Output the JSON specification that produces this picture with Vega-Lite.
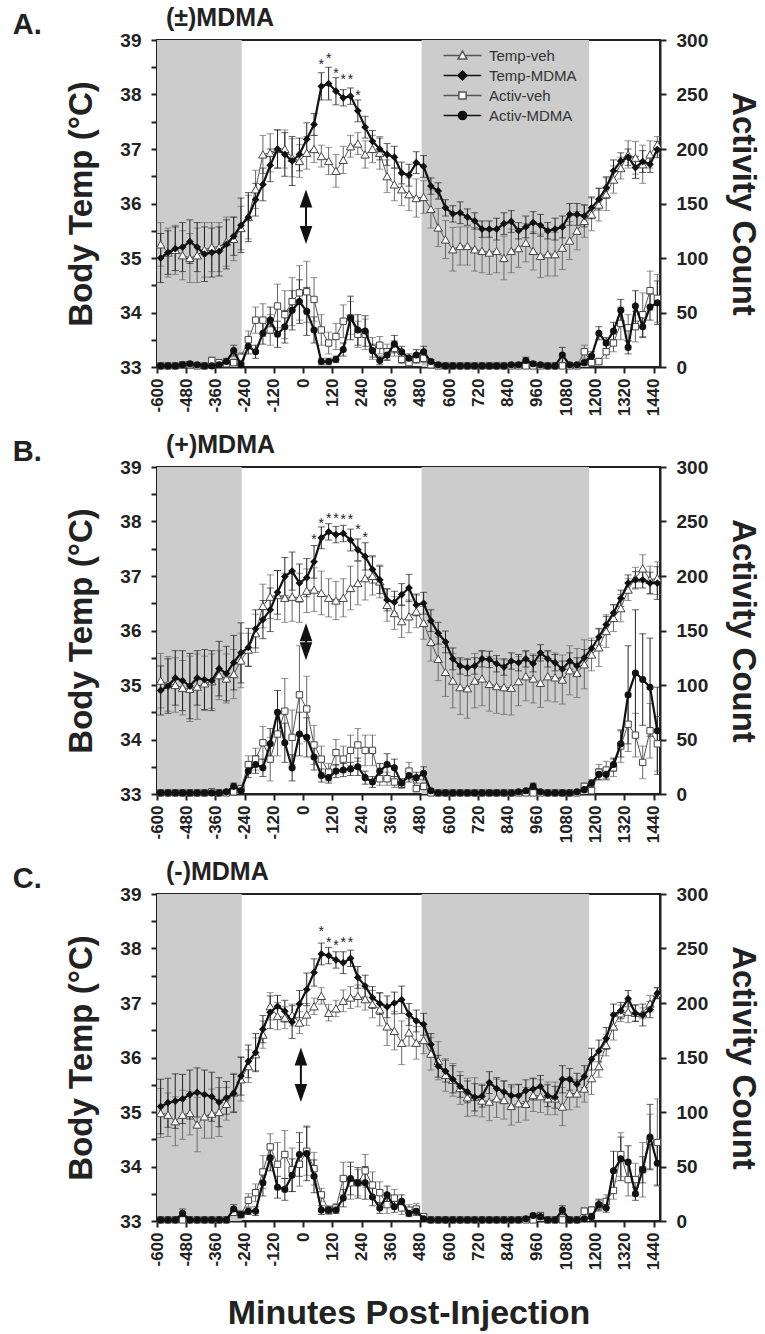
{
"$schema":"https://vega.github.io/schema/vega-lite/v6.json",
"background":"white",
"padding":{"left":12,"top":5,"right":3,"bottom":0},
"config":{"font":"Liberation Sans","view":{"stroke":"#222","strokeWidth":2},
"axis":{"grid":false,"domainColor":"#222","domainWidth":2,"tickColor":"#222","tickWidth":2,"tickSize":6,"labelColor":"#222","titleColor":"#222","labelFont":"Liberation Sans","titleFont":"Liberation Sans","labelFontWeight":"bold","titleFontWeight":"bold"},
"axisX":{"labelOverlap":false,"labelFlush":false,"labelAngle":-90,"labelFontSize":17,"labelPadding":5,"tickCount":30},
"title":{"font":"Liberation Sans","fontWeight":"bold","color":"#222"}},
"datasets":{
"shade":[{"s":-600,"e":-252},{"s":487,"e":1175}],
"A":[
{"t":-585,"tv":35.25,"e1":0.4,"tm":35.0,"e2":0.45,"av":1,"e3":1,"am":1,"e4":1},
{"t":-555,"tv":35.1,"e1":0.45,"tm":35.1,"e2":0.4,"av":1,"e3":1,"am":1,"e4":1},
{"t":-525,"tv":35.15,"e1":0.45,"tm":35.17,"e2":0.4,"av":1,"e3":1,"am":1,"e4":1},
{"t":-495,"tv":35.05,"e1":0.45,"tm":35.2,"e2":0.45,"av":2,"e3":1,"am":2,"e4":1},
{"t":-465,"tv":35.0,"e1":0.45,"tm":35.3,"e2":0.4,"av":2,"e3":2,"am":3,"e4":2},
{"t":-435,"tv":35.05,"e1":0.5,"tm":35.2,"e2":0.45,"av":1,"e3":1,"am":2,"e4":1},
{"t":-405,"tv":35.15,"e1":0.5,"tm":35.07,"e2":0.5,"av":1,"e3":1,"am":1,"e4":1},
{"t":-375,"tv":35.2,"e1":0.45,"tm":35.1,"e2":0.45,"av":6,"e3":3,"am":1,"e4":1},
{"t":-345,"tv":35.2,"e1":0.45,"tm":35.12,"e2":0.45,"av":4,"e3":2,"am":2,"e4":1},
{"t":-315,"tv":35.3,"e1":0.45,"tm":35.25,"e2":0.45,"av":3,"e3":2,"am":5,"e4":3},
{"t":-285,"tv":35.35,"e1":0.4,"tm":35.4,"e2":0.35,"av":4,"e3":2,"am":15,"e4":5},
{"t":-255,"tv":35.55,"e1":0.4,"tm":35.6,"e2":0.5,"av":9,"e3":4,"am":2,"e4":2},
{"t":-225,"tv":35.75,"e1":0.4,"tm":35.75,"e2":0.45,"av":25,"e3":8,"am":19,"e4":7},
{"t":-195,"tv":36.26,"e1":0.35,"tm":36.07,"e2":0.3,"av":43,"e3":12,"am":14,"e4":6},
{"t":-165,"tv":36.9,"e1":0.35,"tm":36.35,"e2":0.3,"av":43,"e3":15,"am":31,"e4":10},
{"t":-135,"tv":36.93,"e1":0.35,"tm":36.7,"e2":0.3,"av":34,"e3":14,"am":43,"e4":12},
{"t":-105,"tv":37.0,"e1":0.35,"tm":37.0,"e2":0.35,"av":56,"e3":20,"am":30,"e4":12},
{"t":-75,"tv":37.0,"e1":0.35,"tm":36.9,"e2":0.4,"av":48,"e3":22,"am":37,"e4":15},
{"t":-45,"tv":36.84,"e1":0.35,"tm":36.78,"e2":0.45,"av":60,"e3":22,"am":52,"e4":18},
{"t":-15,"tv":36.78,"e1":0.3,"tm":36.9,"e2":0.3,"av":68,"e3":25,"am":60,"e4":20},
{"t":15,"tv":36.93,"e1":0.3,"tm":37.18,"e2":0.3,"av":69,"e3":28,"am":51,"e4":22},
{"t":45,"tv":37.0,"e1":0.25,"tm":37.45,"e2":0.2,"av":62,"e3":20,"am":34,"e4":12},
{"t":75,"tv":36.87,"e1":0.2,"tm":38.15,"e2":0.25,"av":34,"e3":14,"am":5,"e4":3},
{"t":105,"tv":36.78,"e1":0.25,"tm":38.2,"e2":0.3,"av":22,"e3":10,"am":5,"e4":3},
{"t":135,"tv":36.6,"e1":0.3,"tm":38.06,"e2":0.25,"av":28,"e3":12,"am":7,"e4":3},
{"t":165,"tv":36.8,"e1":0.25,"tm":37.94,"e2":0.15,"av":42,"e3":15,"am":16,"e4":6},
{"t":195,"tv":37.05,"e1":0.2,"tm":37.97,"e2":0.15,"av":45,"e3":15,"am":45,"e4":20},
{"t":225,"tv":37.1,"e1":0.2,"tm":37.7,"e2":0.2,"av":30,"e3":12,"am":34,"e4":14},
{"t":255,"tv":36.9,"e1":0.25,"tm":37.4,"e2":0.2,"av":30,"e3":14,"am":33,"e4":14},
{"t":285,"tv":37.0,"e1":0.25,"tm":37.14,"e2":0.2,"av":17,"e3":10,"am":15,"e4":6},
{"t":315,"tv":36.93,"e1":0.3,"tm":37.0,"e2":0.2,"av":20,"e3":8,"am":6,"e4":4},
{"t":345,"tv":36.5,"e1":0.3,"tm":36.9,"e2":0.2,"av":14,"e3":7,"am":11,"e4":5},
{"t":375,"tv":36.35,"e1":0.3,"tm":36.85,"e2":0.2,"av":17,"e3":7,"am":21,"e4":8},
{"t":405,"tv":36.26,"e1":0.3,"tm":36.56,"e2":0.2,"av":7,"e3":4,"am":14,"e4":5},
{"t":435,"tv":36.17,"e1":0.3,"tm":36.52,"e2":0.2,"av":4,"e3":3,"am":8,"e4":4},
{"t":465,"tv":36.1,"e1":0.35,"tm":36.75,"e2":0.2,"av":7,"e3":4,"am":11,"e4":5},
{"t":495,"tv":36.12,"e1":0.3,"tm":36.68,"e2":0.2,"av":8,"e3":4,"am":14,"e4":5},
{"t":525,"tv":35.9,"e1":0.35,"tm":36.32,"e2":0.15,"av":2,"e3":1,"am":5,"e4":2},
{"t":555,"tv":35.56,"e1":0.35,"tm":36.23,"e2":0.15,"av":1,"e3":1,"am":2,"e4":1},
{"t":585,"tv":35.34,"e1":0.35,"tm":35.92,"e2":0.15,"av":1,"e3":1,"am":1,"e4":1},
{"t":615,"tv":35.16,"e1":0.4,"tm":35.81,"e2":0.15,"av":1,"e3":1,"am":1,"e4":1},
{"t":645,"tv":35.22,"e1":0.35,"tm":35.83,"e2":0.2,"av":1,"e3":1,"am":1,"e4":1},
{"t":675,"tv":35.22,"e1":0.35,"tm":35.75,"e2":0.15,"av":1,"e3":1,"am":1,"e4":1},
{"t":705,"tv":35.16,"e1":0.4,"tm":35.68,"e2":0.15,"av":1,"e3":1,"am":1,"e4":1},
{"t":735,"tv":35.13,"e1":0.4,"tm":35.53,"e2":0.15,"av":1,"e3":1,"am":1,"e4":1},
{"t":765,"tv":35.1,"e1":0.4,"tm":35.53,"e2":0.15,"av":1,"e3":1,"am":1,"e4":1},
{"t":795,"tv":35.13,"e1":0.4,"tm":35.53,"e2":0.2,"av":1,"e3":1,"am":1,"e4":1},
{"t":825,"tv":35.0,"e1":0.4,"tm":35.63,"e2":0.2,"av":1,"e3":1,"am":1,"e4":1},
{"t":855,"tv":35.13,"e1":0.4,"tm":35.67,"e2":0.2,"av":1,"e3":1,"am":2,"e4":1},
{"t":885,"tv":35.18,"e1":0.35,"tm":35.5,"e2":0.15,"av":1,"e3":1,"am":2,"e4":1},
{"t":915,"tv":35.28,"e1":0.35,"tm":35.57,"e2":0.2,"av":1,"e3":1,"am":6,"e4":3},
{"t":945,"tv":35.13,"e1":0.35,"tm":35.65,"e2":0.2,"av":1,"e3":1,"am":3,"e4":2},
{"t":975,"tv":35.04,"e1":0.4,"tm":35.6,"e2":0.2,"av":1,"e3":1,"am":2,"e4":1},
{"t":1005,"tv":35.07,"e1":0.4,"tm":35.5,"e2":0.15,"av":1,"e3":1,"am":1,"e4":1},
{"t":1035,"tv":35.07,"e1":0.4,"tm":35.53,"e2":0.2,"av":1,"e3":1,"am":1,"e4":1},
{"t":1065,"tv":35.19,"e1":0.4,"tm":35.57,"e2":0.2,"av":1,"e3":1,"am":11,"e4":7},
{"t":1095,"tv":35.32,"e1":0.35,"tm":35.8,"e2":0.2,"av":1,"e3":1,"am":2,"e4":1},
{"t":1125,"tv":35.5,"e1":0.35,"tm":35.8,"e2":0.2,"av":1,"e3":1,"am":2,"e4":1},
{"t":1155,"tv":35.68,"e1":0.3,"tm":35.77,"e2":0.2,"av":14,"e3":6,"am":4,"e4":2},
{"t":1185,"tv":35.8,"e1":0.3,"tm":35.92,"e2":0.2,"av":4,"e3":3,"am":10,"e4":4},
{"t":1215,"tv":35.98,"e1":0.3,"tm":36.08,"e2":0.2,"av":5,"e3":3,"am":31,"e4":6},
{"t":1245,"tv":36.17,"e1":0.3,"tm":36.29,"e2":0.2,"av":14,"e3":6,"am":22,"e4":5},
{"t":1275,"tv":36.44,"e1":0.25,"tm":36.6,"e2":0.2,"av":22,"e3":8,"am":33,"e4":8},
{"t":1305,"tv":36.65,"e1":0.2,"tm":36.78,"e2":0.15,"av":40,"e3":15,"am":52,"e4":10},
{"t":1335,"tv":36.9,"e1":0.25,"tm":36.85,"e2":0.15,"av":36,"e3":12,"am":18,"e4":6},
{"t":1365,"tv":36.84,"e1":0.3,"tm":36.66,"e2":0.2,"av":37,"e3":14,"am":56,"e4":14},
{"t":1395,"tv":36.72,"e1":0.35,"tm":36.77,"e2":0.2,"av":48,"e3":20,"am":37,"e4":10},
{"t":1425,"tv":36.9,"e1":0.25,"tm":36.72,"e2":0.15,"av":70,"e3":18,"am":55,"e4":12},
{"t":1455,"tv":37.08,"e1":0.15,"tm":36.99,"e2":0.15,"av":63,"e3":22,"am":59,"e4":20}
],
"B":[
{"t":-585,"tv":35.08,"e1":0.5,"tm":34.9,"e2":0.45,"av":1,"e3":1,"am":1,"e4":1},
{"t":-555,"tv":35.02,"e1":0.5,"tm":34.98,"e2":0.5,"av":1,"e3":1,"am":1,"e4":1},
{"t":-525,"tv":35.0,"e1":0.5,"tm":35.13,"e2":0.5,"av":1,"e3":1,"am":1,"e4":1},
{"t":-495,"tv":34.95,"e1":0.5,"tm":35.08,"e2":0.55,"av":1,"e3":1,"am":1,"e4":1},
{"t":-465,"tv":34.93,"e1":0.6,"tm":34.98,"e2":0.6,"av":1,"e3":1,"am":1,"e4":1},
{"t":-435,"tv":34.97,"e1":0.6,"tm":35.13,"e2":0.5,"av":1,"e3":1,"am":1,"e4":1},
{"t":-405,"tv":35.03,"e1":0.5,"tm":35.1,"e2":0.55,"av":1,"e3":1,"am":1,"e4":1},
{"t":-375,"tv":35.07,"e1":0.5,"tm":35.08,"e2":0.55,"av":2,"e3":1,"am":1,"e4":1},
{"t":-345,"tv":35.18,"e1":0.45,"tm":35.3,"e2":0.5,"av":1,"e3":1,"am":1,"e4":1},
{"t":-315,"tv":35.12,"e1":0.45,"tm":35.21,"e2":0.5,"av":1,"e3":1,"am":2,"e4":1},
{"t":-285,"tv":35.2,"e1":0.45,"tm":35.41,"e2":0.5,"av":2,"e3":1,"am":7,"e4":3},
{"t":-255,"tv":35.45,"e1":0.5,"tm":35.59,"e2":0.55,"av":5,"e3":2,"am":3,"e4":2},
{"t":-225,"tv":35.65,"e1":0.3,"tm":35.69,"e2":0.35,"av":27,"e3":8,"am":21,"e4":6},
{"t":-195,"tv":35.95,"e1":0.35,"tm":36.03,"e2":0.35,"av":32,"e3":10,"am":27,"e4":8},
{"t":-165,"tv":36.45,"e1":0.4,"tm":36.2,"e2":0.35,"av":47,"e3":15,"am":24,"e4":8},
{"t":-135,"tv":36.62,"e1":0.4,"tm":36.38,"e2":0.4,"av":32,"e3":20,"am":46,"e4":14},
{"t":-105,"tv":36.65,"e1":0.45,"tm":36.7,"e2":0.4,"av":55,"e3":20,"am":75,"e4":20},
{"t":-75,"tv":36.6,"e1":0.45,"tm":36.99,"e2":0.35,"av":76,"e3":30,"am":47,"e4":18},
{"t":-45,"tv":36.62,"e1":0.45,"tm":37.09,"e2":0.35,"av":52,"e3":25,"am":24,"e4":12},
{"t":-15,"tv":36.6,"e1":0.45,"tm":36.87,"e2":0.35,"av":91,"e3":45,"am":55,"e4":20},
{"t":15,"tv":36.73,"e1":0.4,"tm":36.97,"e2":0.35,"av":78,"e3":30,"am":52,"e4":18},
{"t":45,"tv":36.75,"e1":0.4,"tm":37.26,"e2":0.3,"av":45,"e3":18,"am":34,"e4":12},
{"t":75,"tv":36.69,"e1":0.4,"tm":37.7,"e2":0.2,"av":32,"e3":12,"am":17,"e4":6},
{"t":105,"tv":36.6,"e1":0.35,"tm":37.81,"e2":0.15,"av":20,"e3":8,"am":15,"e4":5},
{"t":135,"tv":36.55,"e1":0.35,"tm":37.76,"e2":0.15,"av":38,"e3":12,"am":21,"e4":6},
{"t":165,"tv":36.6,"e1":0.35,"tm":37.78,"e2":0.15,"av":32,"e3":12,"am":22,"e4":6},
{"t":195,"tv":36.78,"e1":0.4,"tm":37.66,"e2":0.2,"av":40,"e3":14,"am":23,"e4":6},
{"t":225,"tv":36.87,"e1":0.4,"tm":37.48,"e2":0.2,"av":45,"e3":15,"am":25,"e4":8},
{"t":255,"tv":36.96,"e1":0.4,"tm":37.36,"e2":0.25,"av":40,"e3":14,"am":15,"e4":6},
{"t":285,"tv":37.0,"e1":0.35,"tm":37.12,"e2":0.25,"av":40,"e3":14,"am":11,"e4":5},
{"t":315,"tv":36.9,"e1":0.3,"tm":36.93,"e2":0.25,"av":14,"e3":6,"am":21,"e4":7},
{"t":345,"tv":36.47,"e1":0.3,"tm":36.56,"e2":0.2,"av":14,"e3":6,"am":27,"e4":10},
{"t":375,"tv":36.32,"e1":0.3,"tm":36.52,"e2":0.2,"av":11,"e3":5,"am":24,"e4":8},
{"t":405,"tv":36.17,"e1":0.3,"tm":36.66,"e2":0.2,"av":9,"e3":4,"am":10,"e4":4},
{"t":435,"tv":36.26,"e1":0.3,"tm":36.78,"e2":0.25,"av":21,"e3":8,"am":17,"e4":6},
{"t":465,"tv":36.35,"e1":0.3,"tm":36.47,"e2":0.2,"av":5,"e3":3,"am":15,"e4":5},
{"t":495,"tv":36.14,"e1":0.3,"tm":36.5,"e2":0.2,"av":7,"e3":3,"am":19,"e4":6},
{"t":525,"tv":35.79,"e1":0.35,"tm":36.18,"e2":0.2,"av":1,"e3":1,"am":3,"e4":2},
{"t":555,"tv":35.48,"e1":0.4,"tm":35.95,"e2":0.2,"av":1,"e3":1,"am":1,"e4":1},
{"t":585,"tv":35.24,"e1":0.45,"tm":35.79,"e2":0.2,"av":1,"e3":1,"am":1,"e4":1},
{"t":615,"tv":35.08,"e1":0.5,"tm":35.48,"e2":0.2,"av":1,"e3":1,"am":1,"e4":1},
{"t":645,"tv":34.96,"e1":0.5,"tm":35.35,"e2":0.15,"av":1,"e3":1,"am":1,"e4":1},
{"t":675,"tv":34.94,"e1":0.55,"tm":35.32,"e2":0.15,"av":1,"e3":1,"am":1,"e4":1},
{"t":705,"tv":35.08,"e1":0.5,"tm":35.35,"e2":0.15,"av":1,"e3":1,"am":1,"e4":1},
{"t":735,"tv":35.12,"e1":0.5,"tm":35.48,"e2":0.15,"av":1,"e3":1,"am":1,"e4":1},
{"t":765,"tv":35.02,"e1":0.5,"tm":35.47,"e2":0.15,"av":1,"e3":1,"am":1,"e4":1},
{"t":795,"tv":34.98,"e1":0.5,"tm":35.39,"e2":0.15,"av":1,"e3":1,"am":1,"e4":1},
{"t":825,"tv":34.96,"e1":0.5,"tm":35.33,"e2":0.15,"av":1,"e3":1,"am":1,"e4":1},
{"t":855,"tv":34.95,"e1":0.5,"tm":35.44,"e2":0.15,"av":1,"e3":1,"am":1,"e4":1},
{"t":885,"tv":35.07,"e1":0.45,"tm":35.41,"e2":0.15,"av":1,"e3":1,"am":2,"e4":1},
{"t":915,"tv":35.16,"e1":0.45,"tm":35.48,"e2":0.15,"av":1,"e3":1,"am":3,"e4":1},
{"t":945,"tv":35.12,"e1":0.45,"tm":35.39,"e2":0.15,"av":1,"e3":1,"am":7,"e4":3},
{"t":975,"tv":35.04,"e1":0.45,"tm":35.59,"e2":0.15,"av":1,"e3":1,"am":2,"e4":1},
{"t":1005,"tv":35.16,"e1":0.45,"tm":35.48,"e2":0.15,"av":1,"e3":1,"am":1,"e4":1},
{"t":1035,"tv":35.14,"e1":0.45,"tm":35.41,"e2":0.15,"av":1,"e3":1,"am":1,"e4":1},
{"t":1065,"tv":35.1,"e1":0.45,"tm":35.29,"e2":0.15,"av":1,"e3":1,"am":1,"e4":1},
{"t":1095,"tv":35.27,"e1":0.45,"tm":35.44,"e2":0.15,"av":1,"e3":1,"am":1,"e4":1},
{"t":1125,"tv":35.22,"e1":0.45,"tm":35.35,"e2":0.15,"av":1,"e3":1,"am":2,"e4":1},
{"t":1155,"tv":35.38,"e1":0.45,"tm":35.5,"e2":0.15,"av":7,"e3":3,"am":4,"e4":2},
{"t":1185,"tv":35.56,"e1":0.3,"tm":35.67,"e2":0.15,"av":3,"e3":2,"am":10,"e4":3},
{"t":1215,"tv":35.69,"e1":0.35,"tm":35.88,"e2":0.15,"av":20,"e3":7,"am":18,"e4":5},
{"t":1245,"tv":35.99,"e1":0.3,"tm":36.11,"e2":0.15,"av":22,"e3":8,"am":18,"e4":5},
{"t":1275,"tv":36.23,"e1":0.25,"tm":36.32,"e2":0.15,"av":24,"e3":8,"am":27,"e4":6},
{"t":1305,"tv":36.41,"e1":0.25,"tm":36.59,"e2":0.15,"av":44,"e3":15,"am":46,"e4":12},
{"t":1335,"tv":36.75,"e1":0.2,"tm":36.87,"e2":0.15,"av":64,"e3":25,"am":91,"e4":45},
{"t":1365,"tv":36.96,"e1":0.2,"tm":36.93,"e2":0.15,"av":54,"e3":20,"am":111,"e4":58},
{"t":1395,"tv":37.14,"e1":0.25,"tm":36.93,"e2":0.15,"av":29,"e3":15,"am":105,"e4":42},
{"t":1425,"tv":36.93,"e1":0.25,"tm":36.87,"e2":0.2,"av":58,"e3":25,"am":98,"e4":45},
{"t":1455,"tv":36.96,"e1":0.3,"tm":36.87,"e2":0.3,"av":46,"e3":25,"am":58,"e4":40}
],
"C":[
{"t":-585,"tv":34.98,"e1":0.45,"tm":35.1,"e2":0.5,"av":1,"e3":1,"am":1,"e4":1},
{"t":-555,"tv":34.95,"e1":0.4,"tm":35.17,"e2":0.45,"av":1,"e3":1,"am":1,"e4":1},
{"t":-525,"tv":34.83,"e1":0.45,"tm":35.2,"e2":0.5,"av":1,"e3":1,"am":1,"e4":1},
{"t":-495,"tv":34.95,"e1":0.45,"tm":35.24,"e2":0.45,"av":1,"e3":1,"am":7,"e4":4},
{"t":-465,"tv":34.98,"e1":0.4,"tm":35.32,"e2":0.45,"av":1,"e3":1,"am":1,"e4":1},
{"t":-435,"tv":34.77,"e1":0.5,"tm":35.36,"e2":0.45,"av":1,"e3":1,"am":1,"e4":1},
{"t":-405,"tv":34.92,"e1":0.4,"tm":35.32,"e2":0.45,"av":1,"e3":1,"am":1,"e4":1},
{"t":-375,"tv":34.97,"e1":0.45,"tm":35.28,"e2":0.45,"av":1,"e3":1,"am":1,"e4":1},
{"t":-345,"tv":35.0,"e1":0.45,"tm":35.18,"e2":0.45,"av":1,"e3":1,"am":1,"e4":1},
{"t":-315,"tv":35.15,"e1":0.3,"tm":35.26,"e2":0.3,"av":1,"e3":1,"am":1,"e4":1},
{"t":-285,"tv":35.36,"e1":0.35,"tm":35.34,"e2":0.35,"av":8,"e3":3,"am":11,"e4":4},
{"t":-255,"tv":35.6,"e1":0.4,"tm":35.66,"e2":0.35,"av":6,"e3":3,"am":6,"e4":3},
{"t":-225,"tv":35.84,"e1":0.3,"tm":35.93,"e2":0.3,"av":19,"e3":6,"am":9,"e4":3},
{"t":-195,"tv":36.06,"e1":0.3,"tm":36.09,"e2":0.35,"av":26,"e3":8,"am":9,"e4":4},
{"t":-165,"tv":36.42,"e1":0.25,"tm":36.52,"e2":0.25,"av":45,"e3":15,"am":35,"e4":12},
{"t":-135,"tv":36.94,"e1":0.25,"tm":36.83,"e2":0.3,"av":68,"e3":12,"am":58,"e4":12},
{"t":-105,"tv":36.76,"e1":0.25,"tm":36.94,"e2":0.2,"av":52,"e3":20,"am":31,"e4":10},
{"t":-75,"tv":36.73,"e1":0.2,"tm":36.85,"e2":0.2,"av":61,"e3":22,"am":29,"e4":10},
{"t":-45,"tv":36.78,"e1":0.2,"tm":36.65,"e2":0.3,"av":47,"e3":20,"am":42,"e4":15},
{"t":-15,"tv":36.64,"e1":0.2,"tm":36.98,"e2":0.25,"av":52,"e3":20,"am":61,"e4":20},
{"t":15,"tv":36.79,"e1":0.2,"tm":37.25,"e2":0.3,"av":64,"e3":22,"am":62,"e4":25},
{"t":45,"tv":36.94,"e1":0.15,"tm":37.56,"e2":0.25,"av":48,"e3":15,"am":41,"e4":15},
{"t":75,"tv":37.13,"e1":0.15,"tm":37.9,"e2":0.2,"av":24,"e3":6,"am":10,"e4":4},
{"t":105,"tv":36.82,"e1":0.15,"tm":37.87,"e2":0.15,"av":10,"e3":4,"am":10,"e4":3},
{"t":135,"tv":36.9,"e1":0.15,"tm":37.79,"e2":0.15,"av":12,"e3":4,"am":10,"e4":3},
{"t":165,"tv":37.04,"e1":0.2,"tm":37.74,"e2":0.2,"av":39,"e3":15,"am":21,"e4":8},
{"t":195,"tv":37.1,"e1":0.2,"tm":37.82,"e2":0.15,"av":35,"e3":15,"am":39,"e4":15},
{"t":225,"tv":37.13,"e1":0.2,"tm":37.47,"e2":0.2,"av":35,"e3":12,"am":35,"e4":14},
{"t":255,"tv":37.07,"e1":0.2,"tm":37.31,"e2":0.2,"av":46,"e3":15,"am":35,"e4":15},
{"t":285,"tv":36.98,"e1":0.25,"tm":37.1,"e2":0.2,"av":33,"e3":12,"am":22,"e4":8},
{"t":315,"tv":36.88,"e1":0.3,"tm":36.99,"e2":0.2,"av":26,"e3":10,"am":12,"e4":5},
{"t":345,"tv":36.57,"e1":0.35,"tm":36.93,"e2":0.2,"av":15,"e3":8,"am":24,"e4":8},
{"t":375,"tv":36.49,"e1":0.35,"tm":37.0,"e2":0.2,"av":21,"e3":8,"am":13,"e4":5},
{"t":405,"tv":36.27,"e1":0.4,"tm":37.06,"e2":0.25,"av":12,"e3":6,"am":18,"e4":6},
{"t":435,"tv":36.46,"e1":0.25,"tm":36.79,"e2":0.2,"av":10,"e3":5,"am":7,"e4":3},
{"t":465,"tv":36.27,"e1":0.3,"tm":36.67,"e2":0.2,"av":11,"e3":5,"am":9,"e4":4},
{"t":495,"tv":36.32,"e1":0.25,"tm":36.61,"e2":0.2,"av":4,"e3":2,"am":2,"e4":1},
{"t":525,"tv":36.07,"e1":0.3,"tm":36.24,"e2":0.2,"av":1,"e3":1,"am":1,"e4":1},
{"t":555,"tv":35.94,"e1":0.35,"tm":35.84,"e2":0.2,"av":1,"e3":1,"am":1,"e4":1},
{"t":585,"tv":35.68,"e1":0.3,"tm":35.75,"e2":0.2,"av":1,"e3":1,"am":1,"e4":1},
{"t":615,"tv":35.59,"e1":0.3,"tm":35.6,"e2":0.25,"av":1,"e3":1,"am":1,"e4":1},
{"t":645,"tv":35.44,"e1":0.3,"tm":35.47,"e2":0.2,"av":1,"e3":1,"am":1,"e4":1},
{"t":675,"tv":35.27,"e1":0.35,"tm":35.37,"e2":0.2,"av":1,"e3":1,"am":1,"e4":1},
{"t":705,"tv":35.28,"e1":0.35,"tm":35.27,"e2":0.25,"av":1,"e3":1,"am":1,"e4":1},
{"t":735,"tv":35.21,"e1":0.3,"tm":35.29,"e2":0.2,"av":1,"e3":1,"am":1,"e4":1},
{"t":765,"tv":35.19,"e1":0.35,"tm":35.54,"e2":0.2,"av":1,"e3":1,"am":1,"e4":1},
{"t":795,"tv":35.25,"e1":0.35,"tm":35.43,"e2":0.2,"av":1,"e3":1,"am":1,"e4":1},
{"t":825,"tv":35.22,"e1":0.35,"tm":35.37,"e2":0.2,"av":1,"e3":1,"am":1,"e4":1},
{"t":855,"tv":35.11,"e1":0.35,"tm":35.3,"e2":0.2,"av":1,"e3":1,"am":1,"e4":1},
{"t":885,"tv":35.16,"e1":0.35,"tm":35.3,"e2":0.2,"av":1,"e3":1,"am":1,"e4":1},
{"t":915,"tv":35.15,"e1":0.3,"tm":35.39,"e2":0.2,"av":1,"e3":1,"am":2,"e4":1},
{"t":945,"tv":35.31,"e1":0.3,"tm":35.42,"e2":0.2,"av":1,"e3":1,"am":5,"e4":2},
{"t":975,"tv":35.29,"e1":0.3,"tm":35.47,"e2":0.2,"av":5,"e3":2,"am":4,"e4":2},
{"t":1005,"tv":35.25,"e1":0.3,"tm":35.3,"e2":0.2,"av":1,"e3":1,"am":1,"e4":1},
{"t":1035,"tv":35.25,"e1":0.3,"tm":35.27,"e2":0.2,"av":1,"e3":1,"am":1,"e4":1},
{"t":1065,"tv":35.1,"e1":0.35,"tm":35.6,"e2":0.25,"av":1,"e3":1,"am":10,"e4":4},
{"t":1095,"tv":35.34,"e1":0.3,"tm":35.6,"e2":0.2,"av":1,"e3":1,"am":1,"e4":1},
{"t":1125,"tv":35.34,"e1":0.25,"tm":35.51,"e2":0.2,"av":1,"e3":1,"am":1,"e4":1},
{"t":1155,"tv":35.43,"e1":0.25,"tm":35.65,"e2":0.2,"av":9,"e3":3,"am":2,"e4":1},
{"t":1185,"tv":35.62,"e1":0.3,"tm":35.97,"e2":0.2,"av":10,"e3":3,"am":4,"e4":2},
{"t":1215,"tv":35.84,"e1":0.2,"tm":36.12,"e2":0.2,"av":14,"e3":5,"am":15,"e4":5},
{"t":1245,"tv":36.23,"e1":0.2,"tm":36.35,"e2":0.2,"av":18,"e3":6,"am":12,"e4":4},
{"t":1275,"tv":36.57,"e1":0.25,"tm":36.78,"e2":0.2,"av":28,"e3":8,"am":46,"e4":18},
{"t":1305,"tv":36.81,"e1":0.15,"tm":36.86,"e2":0.15,"av":61,"e3":20,"am":57,"e4":20},
{"t":1335,"tv":36.84,"e1":0.2,"tm":37.08,"e2":0.15,"av":38,"e3":15,"am":54,"e4":15},
{"t":1365,"tv":36.82,"e1":0.15,"tm":36.81,"e2":0.15,"av":38,"e3":15,"am":25,"e4":6},
{"t":1395,"tv":36.81,"e1":0.1,"tm":36.78,"e2":0.2,"av":47,"e3":25,"am":47,"e4":12},
{"t":1425,"tv":36.99,"e1":0.15,"tm":36.88,"e2":0.15,"av":73,"e3":25,"am":77,"e4":30},
{"t":1455,"tv":37.18,"e1":0.1,"tm":37.18,"e2":0.1,"av":72,"e3":40,"am":53,"e4":20}
]
},
"spacing":15,
"resolve":{"scale":{"shape":"independent","fill":"independent","stroke":"independent"}},
"vconcat":[
{"title":{"text":"A.","orient":"left","angle":0,"anchor":"end","align":"right","baseline":"top","fontSize":29,"offset":-6,"dy":6},
"resolve":{"scale":{"shape":"independent","fill":"independent","stroke":"independent"}},
"vconcat":[{
"title":{"text":"(±)MDMA","anchor":"start","frame":"group","fontSize":25,"dx":9,"offset":-25,"baseline":"bottom"},
"width":503,"height":327,
"resolve":{"scale":{"y":"independent"}},
"layer":[
{"data":{"name":"shade"},"mark":{"type":"rect","color":"#cccccc"},"encoding":{"x":{"field":"s","type":"quantitative","scale":{"domain":[-600,1466],"nice":false,"zero":false},"title":null,"axis":{"values":[-600,-480,-360,-240,-120,0,120,240,360,480,600,720,840,960,1080,1200,1320,1440],"tickCount":30,"labelExpr":"'' + datum.value","labelAngle":-90,"labelFontSize":17,"labelPadding":5,"labelFlush":false,"labelOverlap":false}},"x2":{"field":"e"}}},
{"data":{"name":"A"},"layer":[
{"mark":{"type":"errorbar","color":"#666","ticks":{"size":7},"thickness":1},"encoding":{"x":{"field":"t","type":"quantitative","title":null},"y":{"field":"tv","type":"quantitative","scale":{"domain":[33,39],"nice":false,"zero":false},"title":"Body Temp (°C)","axis":{"orient":"left","values":[33,33.5,34,34.5,35,35.5,36,36.5,37,37.5,38,38.5,39],"tickCount":30,"labelExpr":"datum.value % 1 === 0 ? '' + datum.value : ''","labelFontSize":19,"labelPadding":10,"titleFontSize":33,"titlePadding":21,"labelOverlap":false}},"yError":{"field":"e1"}}},
{"mark":{"type":"errorbar","color":"#222","ticks":{"size":7},"thickness":1},"encoding":{"x":{"field":"t","type":"quantitative","title":null},"y":{"field":"tm","type":"quantitative","title":"Body Temp (°C)"},"yError":{"field":"e2"}}},
{"mark":{"type":"line","color":"#555","strokeWidth":1},"encoding":{"x":{"field":"t","type":"quantitative","title":null},"y":{"field":"tv","type":"quantitative","title":"Body Temp (°C)"}}},
{"mark":{"type":"point","shape":"triangle-up","filled":true,"fill":"white","stroke":"#444","strokeWidth":1,"size":70,"opacity":1},"encoding":{"x":{"field":"t","type":"quantitative","title":null},"y":{"field":"tv","type":"quantitative","title":"Body Temp (°C)"}}},
{"mark":{"type":"line","color":"#111","strokeWidth":2.2},"encoding":{"x":{"field":"t","type":"quantitative","title":null},"y":{"field":"tm","type":"quantitative","title":"Body Temp (°C)"}}},
{"mark":{"type":"point","shape":"diamond","filled":true,"color":"#111","size":60,"opacity":1},"encoding":{"x":{"field":"t","type":"quantitative","title":null},"y":{"field":"tm","type":"quantitative","title":"Body Temp (°C)"}}},
{"data":{"values":[{"t":75,"y":38.55},{"t":105,"y":38.66},{"t":135,"y":38.38},{"t":165,"y":38.26},{"t":195,"y":38.26},{"t":225,"y":37.98}]},"mark":{"type":"text","text":"*","fontSize":14,"color":"#222","baseline":"middle"},"encoding":{"x":{"field":"t","type":"quantitative","title":null},"y":{"field":"y","type":"quantitative","title":"Body Temp (°C)"}}},
{"data":{"values":[{"t":12,"top":36.09,"bot":35.42}]},"mark":{"type":"rule","color":"#111","strokeWidth":2},"encoding":{"x":{"field":"t","type":"quantitative","title":null},"y":{"field":"top","type":"quantitative","title":"Body Temp (°C)"},"y2":{"field":"bot"}}},
{"data":{"values":[{"t":12,"top":36.09,"bot":35.42}]},"mark":{"type":"point","shape":"M0,-1L0.7,1L-0.7,1Z","filled":true,"color":"#111","size":324,"opacity":1},"encoding":{"x":{"field":"t","type":"quantitative","title":null},"y":{"field":"top","type":"quantitative","title":"Body Temp (°C)"}}},
{"data":{"values":[{"t":12,"top":36.09,"bot":35.42}]},"mark":{"type":"point","shape":"M0,1L0.7,-1L-0.7,-1Z","filled":true,"color":"#111","size":324,"opacity":1},"encoding":{"x":{"field":"t","type":"quantitative","title":null},"y":{"field":"bot","type":"quantitative","title":"Body Temp (°C)"}}}
]},
{"data":{"name":"A"},"layer":[
{"mark":{"type":"errorbar","color":"#666","ticks":{"size":7},"thickness":1},"encoding":{"x":{"field":"t","type":"quantitative","title":null},"y":{"field":"av","type":"quantitative","scale":{"domain":[0,300],"nice":false},"title":"Activity Count","axis":{"orient":"right","values":[0,50,100,150,200,250,300],"tickCount":30,"labelFontSize":19,"labelPadding":10,"titleFontSize":33,"titlePadding":18}},"yError":{"field":"e3"}}},
{"mark":{"type":"errorbar","color":"#222","ticks":{"size":7},"thickness":1},"encoding":{"x":{"field":"t","type":"quantitative","title":null},"y":{"field":"am","type":"quantitative","title":"Activity Count"},"yError":{"field":"e4"}}},
{"mark":{"type":"line","color":"#555","strokeWidth":1},"encoding":{"x":{"field":"t","type":"quantitative","title":null},"y":{"field":"av","type":"quantitative","title":"Activity Count"}}},
{"mark":{"type":"point","shape":"square","filled":true,"fill":"white","stroke":"#444","strokeWidth":1,"size":40,"opacity":1},"encoding":{"x":{"field":"t","type":"quantitative","title":null},"y":{"field":"av","type":"quantitative","title":"Activity Count"}}},
{"mark":{"type":"line","color":"#111","strokeWidth":2.2},"encoding":{"x":{"field":"t","type":"quantitative","title":null},"y":{"field":"am","type":"quantitative","title":"Activity Count"}}},
{"mark":{"type":"point","shape":"circle","filled":true,"color":"#111","size":50,"opacity":1},"encoding":{"x":{"field":"t","type":"quantitative","title":null},"y":{"field":"am","type":"quantitative","title":"Activity Count"}}}
]},
{"data":{"values":[]},"mark":{"type":"point","opacity":1,"filled":false},"encoding":{
"shape":{"field":"s","type":"nominal","scale":{"domain":["Temp-veh","Temp-MDMA","Activ-veh","Activ-MDMA"],"range":["M-4.2,0H-0.56M0.56,0H4.2M0,-1L1,0.8L-1,0.8Z","M-4.2,0H-1M1,0H4.2M0,-1L1,0L0,1L-1,0Z","M-4.2,0H-0.8M0.8,0H4.2M-0.8,-0.8H0.8V0.8H-0.8Z","M-4.2,0H-0.9M0.9,0H4.2M-0.9,0A0.9,0.9,0,1,0,0.9,0A0.9,0.9,0,1,0,-0.9,0Z"]},"legend":{"title":null,"orient":"none","legendX":298,"legendY":8,"labelFontSize":15,"labelFont":"Liberation Sans","labelFontWeight":"normal","labelColor":"#333","symbolSize":81,"symbolStrokeWidth":1.5,"labelOffset":19,"rowPadding":4,"padding":0}},
"fill":{"field":"s","type":"nominal","scale":{"domain":["Temp-veh","Temp-MDMA","Activ-veh","Activ-MDMA"],"range":["white","#111","white","#111"]},"legend":{"title":null,"orient":"none","legendX":298,"legendY":8,"labelFontSize":15,"labelFont":"Liberation Sans","labelFontWeight":"normal","labelColor":"#333","symbolSize":81,"symbolStrokeWidth":1.5,"labelOffset":19,"rowPadding":4,"padding":0}},
"stroke":{"field":"s","type":"nominal","scale":{"domain":["Temp-veh","Temp-MDMA","Activ-veh","Activ-MDMA"],"range":["#555","#111","#555","#111"]},"legend":{"title":null,"orient":"none","legendX":298,"legendY":8,"labelFontSize":15,"labelFont":"Liberation Sans","labelFontWeight":"normal","labelColor":"#333","symbolSize":81,"symbolStrokeWidth":1.5,"labelOffset":19,"rowPadding":4,"padding":0}}
}}
]}]},
{"title":{"text":"B.","orient":"left","angle":0,"anchor":"end","align":"right","baseline":"top","fontSize":29,"offset":-6,"dy":6},
"vconcat":[{
"title":{"text":"(+)MDMA","anchor":"start","frame":"group","fontSize":25,"dx":9,"offset":-25,"baseline":"bottom"},
"width":503,"height":327,
"resolve":{"scale":{"y":"independent"}},
"layer":[
{"data":{"name":"shade"},"mark":{"type":"rect","color":"#cccccc"},"encoding":{"x":{"field":"s","type":"quantitative","scale":{"domain":[-600,1466],"nice":false,"zero":false},"title":null,"axis":{"values":[-600,-480,-360,-240,-120,0,120,240,360,480,600,720,840,960,1080,1200,1320,1440],"tickCount":30,"labelExpr":"'' + datum.value","labelAngle":-90,"labelFontSize":17,"labelPadding":5,"labelFlush":false,"labelOverlap":false}},"x2":{"field":"e"}}},
{"data":{"name":"B"},"layer":[
{"mark":{"type":"errorbar","color":"#666","ticks":{"size":7},"thickness":1},"encoding":{"x":{"field":"t","type":"quantitative","title":null},"y":{"field":"tv","type":"quantitative","scale":{"domain":[33,39],"nice":false,"zero":false},"title":"Body Temp (°C)","axis":{"orient":"left","values":[33,33.5,34,34.5,35,35.5,36,36.5,37,37.5,38,38.5,39],"tickCount":30,"labelExpr":"datum.value % 1 === 0 ? '' + datum.value : ''","labelFontSize":19,"labelPadding":10,"titleFontSize":33,"titlePadding":21,"labelOverlap":false}},"yError":{"field":"e1"}}},
{"mark":{"type":"errorbar","color":"#222","ticks":{"size":7},"thickness":1},"encoding":{"x":{"field":"t","type":"quantitative","title":null},"y":{"field":"tm","type":"quantitative","title":"Body Temp (°C)"},"yError":{"field":"e2"}}},
{"mark":{"type":"line","color":"#555","strokeWidth":1},"encoding":{"x":{"field":"t","type":"quantitative","title":null},"y":{"field":"tv","type":"quantitative","title":"Body Temp (°C)"}}},
{"mark":{"type":"point","shape":"triangle-up","filled":true,"fill":"white","stroke":"#444","strokeWidth":1,"size":70,"opacity":1},"encoding":{"x":{"field":"t","type":"quantitative","title":null},"y":{"field":"tv","type":"quantitative","title":"Body Temp (°C)"}}},
{"mark":{"type":"line","color":"#111","strokeWidth":2.2},"encoding":{"x":{"field":"t","type":"quantitative","title":null},"y":{"field":"tm","type":"quantitative","title":"Body Temp (°C)"}}},
{"mark":{"type":"point","shape":"diamond","filled":true,"color":"#111","size":60,"opacity":1},"encoding":{"x":{"field":"t","type":"quantitative","title":null},"y":{"field":"tm","type":"quantitative","title":"Body Temp (°C)"}}},
{"data":{"values":[{"t":45,"y":37.66},{"t":75,"y":37.95},{"t":105,"y":38.04},{"t":135,"y":38.04},{"t":165,"y":38.03},{"t":195,"y":38.03},{"t":225,"y":37.84},{"t":255,"y":37.69}]},"mark":{"type":"text","text":"*","fontSize":14,"color":"#222","baseline":"middle"},"encoding":{"x":{"field":"t","type":"quantitative","title":null},"y":{"field":"y","type":"quantitative","title":"Body Temp (°C)"}}},
{"data":{"values":[{"t":12,"top":35.97,"bot":35.62}]},"mark":{"type":"rule","color":"#111","strokeWidth":2},"encoding":{"x":{"field":"t","type":"quantitative","title":null},"y":{"field":"top","type":"quantitative","title":"Body Temp (°C)"},"y2":{"field":"bot"}}},
{"data":{"values":[{"t":12,"top":35.97,"bot":35.62}]},"mark":{"type":"point","shape":"M0,-1L0.7,1L-0.7,1Z","filled":true,"color":"#111","size":324,"opacity":1},"encoding":{"x":{"field":"t","type":"quantitative","title":null},"y":{"field":"top","type":"quantitative","title":"Body Temp (°C)"}}},
{"data":{"values":[{"t":12,"top":35.97,"bot":35.62}]},"mark":{"type":"point","shape":"M0,1L0.7,-1L-0.7,-1Z","filled":true,"color":"#111","size":324,"opacity":1},"encoding":{"x":{"field":"t","type":"quantitative","title":null},"y":{"field":"bot","type":"quantitative","title":"Body Temp (°C)"}}}
]},
{"data":{"name":"B"},"layer":[
{"mark":{"type":"errorbar","color":"#666","ticks":{"size":7},"thickness":1},"encoding":{"x":{"field":"t","type":"quantitative","title":null},"y":{"field":"av","type":"quantitative","scale":{"domain":[0,300],"nice":false},"title":"Activity Count","axis":{"orient":"right","values":[0,50,100,150,200,250,300],"tickCount":30,"labelFontSize":19,"labelPadding":10,"titleFontSize":33,"titlePadding":18}},"yError":{"field":"e3"}}},
{"mark":{"type":"errorbar","color":"#222","ticks":{"size":7},"thickness":1},"encoding":{"x":{"field":"t","type":"quantitative","title":null},"y":{"field":"am","type":"quantitative","title":"Activity Count"},"yError":{"field":"e4"}}},
{"mark":{"type":"line","color":"#555","strokeWidth":1},"encoding":{"x":{"field":"t","type":"quantitative","title":null},"y":{"field":"av","type":"quantitative","title":"Activity Count"}}},
{"mark":{"type":"point","shape":"square","filled":true,"fill":"white","stroke":"#444","strokeWidth":1,"size":40,"opacity":1},"encoding":{"x":{"field":"t","type":"quantitative","title":null},"y":{"field":"av","type":"quantitative","title":"Activity Count"}}},
{"mark":{"type":"line","color":"#111","strokeWidth":2.2},"encoding":{"x":{"field":"t","type":"quantitative","title":null},"y":{"field":"am","type":"quantitative","title":"Activity Count"}}},
{"mark":{"type":"point","shape":"circle","filled":true,"color":"#111","size":50,"opacity":1},"encoding":{"x":{"field":"t","type":"quantitative","title":null},"y":{"field":"am","type":"quantitative","title":"Activity Count"}}}
]}
]}]},
{"title":{"text":"C.","orient":"left","angle":0,"anchor":"end","align":"right","baseline":"top","fontSize":29,"offset":-6,"dy":6},
"vconcat":[{
"title":{"text":"(-)MDMA","anchor":"start","frame":"group","fontSize":25,"dx":9,"offset":-25,"baseline":"bottom"},
"width":503,"height":327,
"resolve":{"scale":{"y":"independent"}},
"layer":[
{"data":{"name":"shade"},"mark":{"type":"rect","color":"#cccccc"},"encoding":{"x":{"field":"s","type":"quantitative","scale":{"domain":[-600,1466],"nice":false,"zero":false},"title":"Minutes Post-Injection","axis":{"values":[-600,-480,-360,-240,-120,0,120,240,360,480,600,720,840,960,1080,1200,1320,1440],"tickCount":30,"labelExpr":"'' + datum.value","labelAngle":-90,"labelFontSize":17,"labelPadding":5,"labelFlush":false,"labelOverlap":false,"titleFontSize":34,"titlePadding":27}},"x2":{"field":"e"}}},
{"data":{"name":"C"},"layer":[
{"mark":{"type":"errorbar","color":"#666","ticks":{"size":7},"thickness":1},"encoding":{"x":{"field":"t","type":"quantitative","title":"Minutes Post-Injection"},"y":{"field":"tv","type":"quantitative","scale":{"domain":[33,39],"nice":false,"zero":false},"title":"Body Temp (°C)","axis":{"orient":"left","values":[33,33.5,34,34.5,35,35.5,36,36.5,37,37.5,38,38.5,39],"tickCount":30,"labelExpr":"datum.value % 1 === 0 ? '' + datum.value : ''","labelFontSize":19,"labelPadding":10,"titleFontSize":33,"titlePadding":21,"labelOverlap":false}},"yError":{"field":"e1"}}},
{"mark":{"type":"errorbar","color":"#222","ticks":{"size":7},"thickness":1},"encoding":{"x":{"field":"t","type":"quantitative","title":"Minutes Post-Injection"},"y":{"field":"tm","type":"quantitative","title":"Body Temp (°C)"},"yError":{"field":"e2"}}},
{"mark":{"type":"line","color":"#555","strokeWidth":1},"encoding":{"x":{"field":"t","type":"quantitative","title":"Minutes Post-Injection"},"y":{"field":"tv","type":"quantitative","title":"Body Temp (°C)"}}},
{"mark":{"type":"point","shape":"triangle-up","filled":true,"fill":"white","stroke":"#444","strokeWidth":1,"size":70,"opacity":1},"encoding":{"x":{"field":"t","type":"quantitative","title":"Minutes Post-Injection"},"y":{"field":"tv","type":"quantitative","title":"Body Temp (°C)"}}},
{"mark":{"type":"line","color":"#111","strokeWidth":2.2},"encoding":{"x":{"field":"t","type":"quantitative","title":"Minutes Post-Injection"},"y":{"field":"tm","type":"quantitative","title":"Body Temp (°C)"}}},
{"mark":{"type":"point","shape":"diamond","filled":true,"color":"#111","size":60,"opacity":1},"encoding":{"x":{"field":"t","type":"quantitative","title":"Minutes Post-Injection"},"y":{"field":"tm","type":"quantitative","title":"Body Temp (°C)"}}},
{"data":{"values":[{"t":75,"y":38.3},{"t":105,"y":38.11},{"t":135,"y":38.04},{"t":165,"y":38.11},{"t":195,"y":38.11}]},"mark":{"type":"text","text":"*","fontSize":14,"color":"#222","baseline":"middle"},"encoding":{"x":{"field":"t","type":"quantitative","title":"Minutes Post-Injection"},"y":{"field":"y","type":"quantitative","title":"Body Temp (°C)"}}},
{"data":{"values":[{"t":-9,"top":36.02,"bot":35.35}]},"mark":{"type":"rule","color":"#111","strokeWidth":2},"encoding":{"x":{"field":"t","type":"quantitative","title":"Minutes Post-Injection"},"y":{"field":"top","type":"quantitative","title":"Body Temp (°C)"},"y2":{"field":"bot"}}},
{"data":{"values":[{"t":-9,"top":36.02,"bot":35.35}]},"mark":{"type":"point","shape":"M0,-1L0.7,1L-0.7,1Z","filled":true,"color":"#111","size":324,"opacity":1},"encoding":{"x":{"field":"t","type":"quantitative","title":"Minutes Post-Injection"},"y":{"field":"top","type":"quantitative","title":"Body Temp (°C)"}}},
{"data":{"values":[{"t":-9,"top":36.02,"bot":35.35}]},"mark":{"type":"point","shape":"M0,1L0.7,-1L-0.7,-1Z","filled":true,"color":"#111","size":324,"opacity":1},"encoding":{"x":{"field":"t","type":"quantitative","title":"Minutes Post-Injection"},"y":{"field":"bot","type":"quantitative","title":"Body Temp (°C)"}}}
]},
{"data":{"name":"C"},"layer":[
{"mark":{"type":"errorbar","color":"#666","ticks":{"size":7},"thickness":1},"encoding":{"x":{"field":"t","type":"quantitative","title":"Minutes Post-Injection"},"y":{"field":"av","type":"quantitative","scale":{"domain":[0,300],"nice":false},"title":"Activity Count","axis":{"orient":"right","values":[0,50,100,150,200,250,300],"tickCount":30,"labelFontSize":19,"labelPadding":10,"titleFontSize":33,"titlePadding":18}},"yError":{"field":"e3"}}},
{"mark":{"type":"errorbar","color":"#222","ticks":{"size":7},"thickness":1},"encoding":{"x":{"field":"t","type":"quantitative","title":"Minutes Post-Injection"},"y":{"field":"am","type":"quantitative","title":"Activity Count"},"yError":{"field":"e4"}}},
{"mark":{"type":"line","color":"#555","strokeWidth":1},"encoding":{"x":{"field":"t","type":"quantitative","title":"Minutes Post-Injection"},"y":{"field":"av","type":"quantitative","title":"Activity Count"}}},
{"mark":{"type":"point","shape":"square","filled":true,"fill":"white","stroke":"#444","strokeWidth":1,"size":40,"opacity":1},"encoding":{"x":{"field":"t","type":"quantitative","title":"Minutes Post-Injection"},"y":{"field":"av","type":"quantitative","title":"Activity Count"}}},
{"mark":{"type":"line","color":"#111","strokeWidth":2.2},"encoding":{"x":{"field":"t","type":"quantitative","title":"Minutes Post-Injection"},"y":{"field":"am","type":"quantitative","title":"Activity Count"}}},
{"mark":{"type":"point","shape":"circle","filled":true,"color":"#111","size":50,"opacity":1},"encoding":{"x":{"field":"t","type":"quantitative","title":"Minutes Post-Injection"},"y":{"field":"am","type":"quantitative","title":"Activity Count"}}}
]}
]}]}
]
}
